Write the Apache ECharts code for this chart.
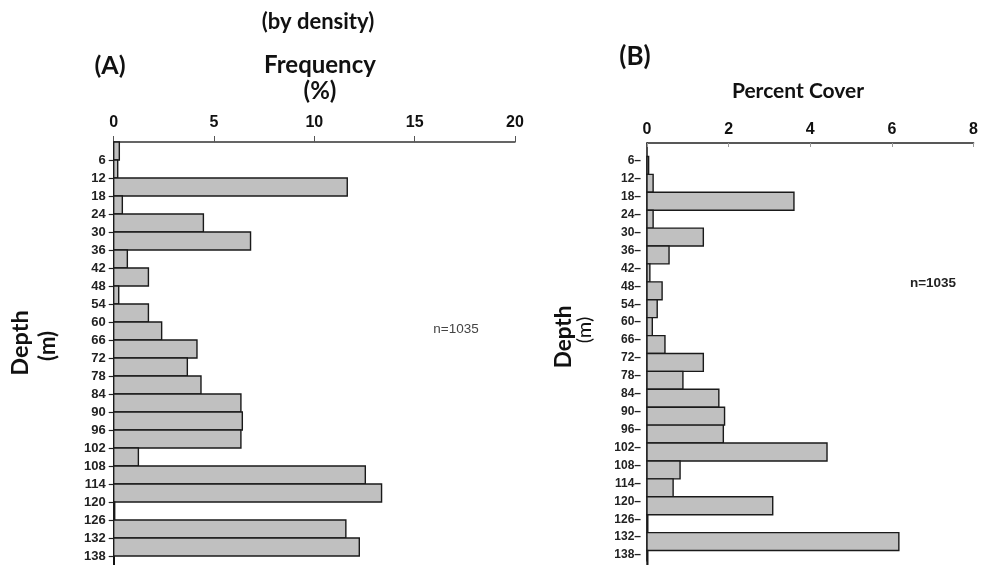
<!DOCTYPE html>
<html>
<head>
<meta charset="utf-8">
<script src="https://cdn.jsdelivr.net/npm/echarts@6/dist/echarts.min.js"></script>
<style>
html,body{margin:0;padding:0;background:#fff;}
#chart{width:981px;height:565px;}
</style>
</head>
<body>
<div id="chart"></div>
<script>
// Depth tick labels (m)
const depthLabels = [6,12,18,24,30,36,42,48,54,60,66,72,78,84,90,96,102,108,114,120,126,132,138];
// Panel A: frequency (%) by density, bins ending at each depth label
const freqA = [0.28,0.2,11.64,0.43,4.47,6.82,0.68,1.73,0.25,1.73,2.39,4.15,3.67,4.35,6.34,6.41,6.34,1.23,12.54,13.35,0.05,11.57,12.24];
// Panel B: percent cover, one bar per depth label
const coverB = [0.04,0.15,3.6,0.15,1.38,0.54,0.07,0.37,0.25,0.13,0.44,1.38,0.88,1.76,1.9,1.87,4.41,0.81,0.64,3.08,0,6.17,0];
const xTicksA = [0,5,10,15,20];
const xTicksB = [0,2,4,6,8];
const nText = 'n=1035';

const BIN = 6;
// A: bin spans (label-6, label]; B: bar drawn around label
const dataA = depthLabels.map((d,i)=>[d-BIN, d, freqA[i]]);
const B_SHIFT = 1.5;
const dataB = depthLabels.map((d,i)=>[d-BIN/2+B_SHIFT, d+BIN/2+B_SHIFT, coverB[i]]);

const chart = echarts.init(document.getElementById('chart'), null, {renderer:'canvas'});

function renderBar(params, api){
  const y0 = api.value(0), y1 = api.value(1), v = api.value(2);
  const p0 = api.coord([0, y0]);
  const p1 = api.coord([v, y1]);
  return {
    type:'rect',
    shape:{x:p0[0], y:p0[1], width:Math.max(p1[0]-p0[0],0.8), height:p1[1]-p0[1]},
    style:{fill:'#c0c0c0', stroke:'#1a1a1a', lineWidth:1.4}
  };
}

const titleFont = 'Lato, "Open Sans", sans-serif';
const axisFont = '"Liberation Sans", Arial, sans-serif';
const narrowFont = '"Liberation Sans Narrow", "Liberation Sans", Arial, sans-serif';

chart.setOption({
  animation:false,
  backgroundColor:'#fff',
  grid:[
    {left:113.7, top:142, width:401.3, height:423, containLabel:false},
    {left:647, top:143, width:330.7, height:418, containLabel:false}
  ],
  xAxis:[
    {gridIndex:0, type:'value', position:'top', min:0, max:20, interval:5,
     axisLine:{show:true, lineStyle:{color:'#333', width:1.5}},
     axisTick:{show:true, inside:false, length:6, lineStyle:{color:'#555'}},
     axisLabel:{show:true, margin:11, fontSize:16, fontWeight:'bold', color:'#111', fontFamily:axisFont},
     splitLine:{show:false}},
    {gridIndex:1, type:'value', position:'top', min:0, max:8, interval:2,
     axisLine:{show:true, lineStyle:{color:'#222', width:1.5}},
     axisTick:{show:true, inside:true, length:4, lineStyle:{color:'#999'}},
     axisLabel:{show:true, margin:5, fontSize:16, fontWeight:'bold', color:'#111', fontFamily:narrowFont},
     splitLine:{show:false}}
  ],
  yAxis:[
    {gridIndex:0, type:'value', inverse:true, min:0, max:141,
     axisLine:{show:true, lineStyle:{color:'#111', width:2}},
     axisTick:{show:true, length:5, customValues:depthLabels, lineStyle:{color:'#222', width:1.2}},
     axisLabel:{show:true, customValues:depthLabels, margin:8, fontSize:13, fontWeight:'bold', color:'#222', fontFamily:axisFont},
     splitLine:{show:false}},
    {gridIndex:1, type:'value', inverse:true, min:0, max:140,
     axisLine:{show:true, lineStyle:{color:'#111', width:1.5}},
     axisTick:{show:false},
     axisLabel:{show:true, customValues:depthLabels, margin:6, fontSize:12, fontWeight:'bold', color:'#222', fontFamily:narrowFont,
       formatter:function(v){return v + '\u2013';}},
     splitLine:{show:false}}
  ],
  series:[
    {type:'custom', xAxisIndex:0, yAxisIndex:0, renderItem:renderBar, encode:{x:2, y:[0,1]}, data:dataA, silent:true},
    {type:'custom', xAxisIndex:1, yAxisIndex:1, renderItem:renderBar, encode:{x:2, y:[0,1]}, data:dataB, silent:true}
  ],
  graphic:[
    {type:'text', x:318, y:22, style:{text:'(by density)', font:'bold 22px '+titleFont, fill:'#111', textAlign:'center', textVerticalAlign:'middle'}},
    {type:'text', x:110, y:66, style:{text:'(A)', font:'bold 25px '+titleFont, fill:'#111', textAlign:'center', textVerticalAlign:'middle'}},
    {type:'text', x:320, y:65, style:{text:'Frequency', font:'bold 24px '+titleFont, fill:'#111', textAlign:'center', textVerticalAlign:'middle'}},
    {type:'text', x:320, y:91, style:{text:'(%)', font:'bold 24px '+titleFont, fill:'#111', textAlign:'center', textVerticalAlign:'middle'}},
    {type:'text', x:20, y:343, rotation:Math.PI/2, style:{text:'Depth', font:'bold 23.5px '+titleFont, fill:'#111', textAlign:'center', textVerticalAlign:'middle'}},
    {type:'text', x:48, y:346, rotation:Math.PI/2, style:{text:'(m)', font:'bold 22px '+titleFont, fill:'#111', textAlign:'center', textVerticalAlign:'middle'}},
    {type:'text', x:456, y:329, style:{text:nText, font:'13.5px '+axisFont, fill:'#444', textAlign:'center', textVerticalAlign:'middle'}},
    {type:'text', x:635, y:57, style:{text:'(B)', font:'bold 26px '+titleFont, fill:'#111', textAlign:'center', textVerticalAlign:'middle'}},
    {type:'text', x:798, y:91, style:{text:'Percent Cover', font:'bold 21px '+titleFont, fill:'#111', textAlign:'center', textVerticalAlign:'middle'}},
    {type:'text', x:564, y:337, rotation:Math.PI/2, style:{text:'Depth', font:'bold 22.5px '+titleFont, fill:'#111', textAlign:'center', textVerticalAlign:'middle'}},
    {type:'text', x:585, y:330, rotation:Math.PI/2, style:{text:'(m)', font:'20px '+titleFont, fill:'#111', textAlign:'center', textVerticalAlign:'middle'}},
    {type:'text', x:933, y:283, style:{text:nText, font:'bold 13.5px '+narrowFont, fill:'#222', textAlign:'center', textVerticalAlign:'middle'}}
  ]
});
</script>
</body>
</html>
